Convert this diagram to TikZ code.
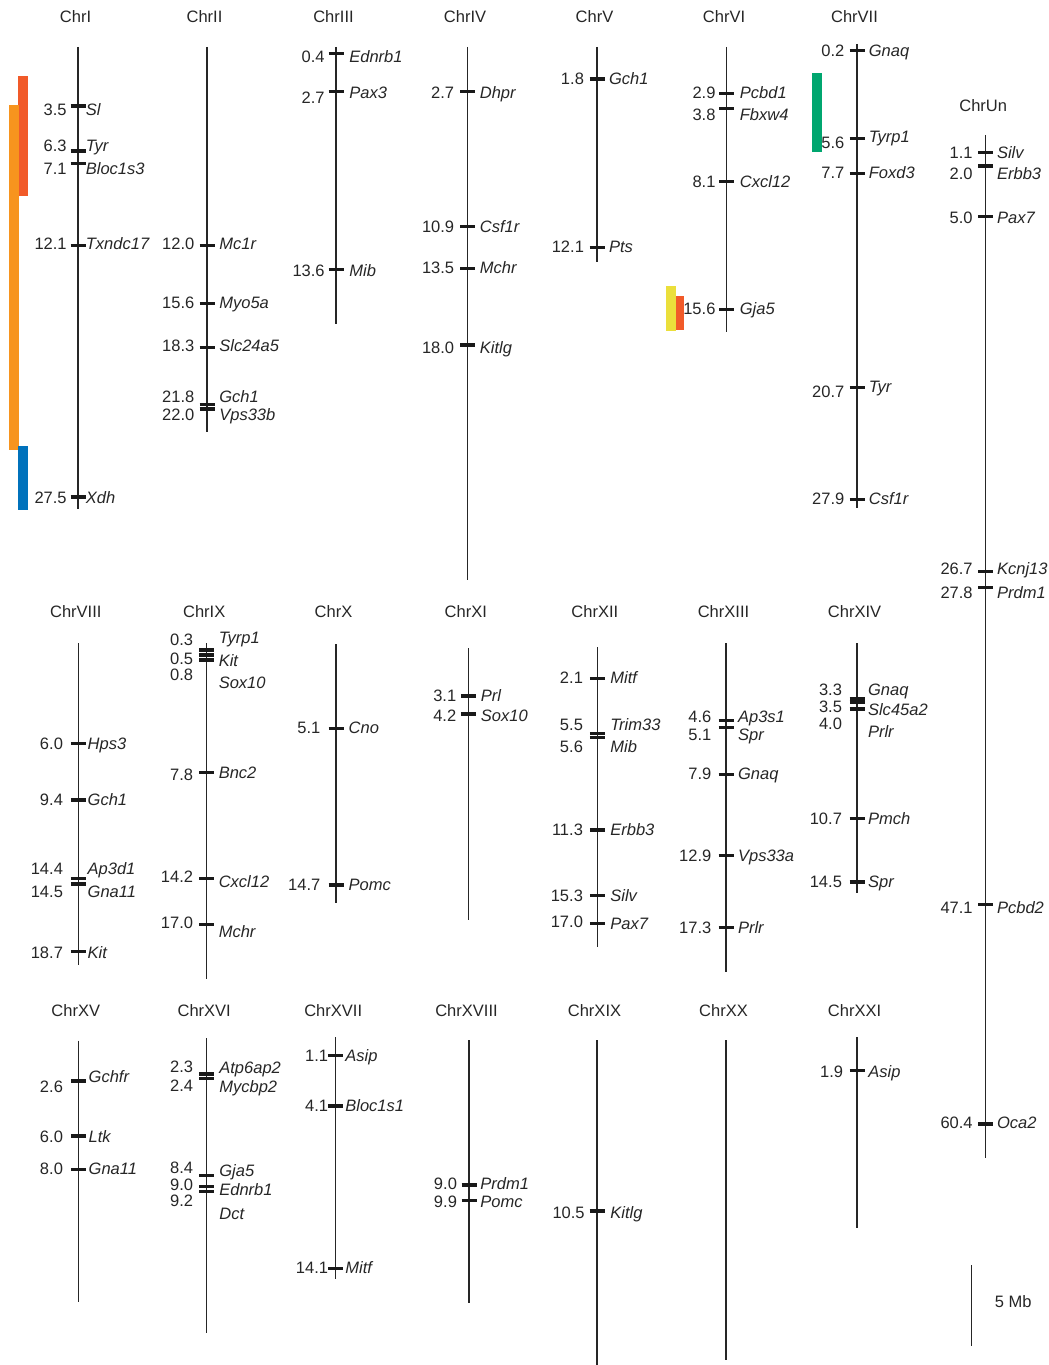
\documentclass[tikz,border=0pt]{standalone}
\usepackage{fontspec}
\setmainfont{Liberation Sans}
\usetikzlibrary{calc}

\definecolor{barred}{HTML}{F15A29}
\definecolor{barorange}{HTML}{F7941E}
\definecolor{barblue}{HTML}{0072BC}
\definecolor{baryellow}{HTML}{EBDF3B}
\definecolor{bargreen}{HTML}{00A66F}

\newcommand{\labelfont}{\fontsize{9.4}{10}\selectfont}

\tikzset{
  chrline/.style={line width=0.65pt,black!85},
  marker/.style={line width=2pt,black!90},
  chrname/.style={anchor=base,inner sep=0pt,yshift=-0.11cm,xshift=-0.05cm,font=\labelfont,black!85},
  mbpos/.style={anchor=base east,inner sep=0pt,yshift=-0.11cm,font=\labelfont,black!85},
  genename/.style={anchor=base west,inner sep=0pt,yshift=-0.11cm,font=\labelfont\itshape,black!85}
}

% #1 name, #2 x, #3 top, #4 bottom, #5 title y, #6 gap of Mb, #7 gap of gene, #8 ticks y/Mb/y/gene/y
\newcommand{\chrom}[8]{%
 \begin{scope}[shift={(#2,0)}]
  \draw[chrline] (0,#3) -- (0,#4);
  \node[chrname] (#1) at (0,#5) {#1};
  \foreach \ty/\mb/\my/\gene/\gy in {#8}{
   \draw[marker] (-7.5,\ty) -- (7.5,\ty);
   \node[mbpos] (#1-\gene-mb) at (-#6,\my) {\mb};
   \node[genename] (#1-\gene) at (#7,\gy) {\gene};
  }
 \end{scope}}

\begin{document}
\begin{tikzpicture}[x=0.02cm,y=-0.02cm]
\useasboundingbox (0,0) rectangle (1048,1365);

% coloured bars
\fill[barred] (18,76) rectangle (28,196);
\fill[barorange] (9,105) rectangle (19,450);
\fill[barblue] (18,446) rectangle (28,510);
\fill[baryellow] (666,286) rectangle (676,331);
\fill[barred] (676,296) rectangle (684,330);
\fill[bargreen] (812.3,72.7) rectangle (821.7,151.7);

% row 1
\chrom{ChrI}{78}{47}{509}{17}{11}{7.5}{106/3.5/110/Sl/110, 151/6.3/146.5/Tyr/146.5, 163.3/7.1/169/Bloc1s3/169, 245.7/12.1/244/Txndc17/244, 497/27.5/498/Xdh/498}
\chrom{ChrII}{207}{47}{431.7}{17}{12.3}{12}{245.7/12.0/244/Mc1r/244, 303.3/15.6/303/Myo5a/303, 347.7/18.3/346/Slc24a5/346, 404.3/21.8/396.7/Gch1/396.7, 409/22.0/415/Vps33b/415}
\chrom{ChrIII}{336}{47}{324}{17}{11}{13}{53.3/0.4/57.3/Ednrb1/57.3, 91.7/2.7/98.3/Pax3/93.3, 269.3/13.6/270.7/Mib/270.7}
\chrom{ChrIV}{467.5}{47}{580}{17}{13}{12}{91.7/2.7/93.3/Dhpr/93.3, 226.7/10.9/226.7/Csf1r/226.7, 268.3/13.5/268/Mchr/268, 345/18.0/348.3/Kitlg/348.3}
\chrom{ChrV}{597}{47}{262}{17}{12.7}{11.7}{79/1.8/79/Gch1/79, 247.3/12.1/247/Pts/247}
\chrom{ChrVI}{726.5}{47}{331.7}{17}{10.7}{13}{93.3/2.9/92.7/Pcbd1/92.7, 108.3/3.8/115/Fbxw4/115, 181.7/8.1/181.7/Cxcl12/181.7, 309.3/15.6/309.3/Gja5/309.3}
\chrom{ChrVII}{857}{44}{508}{17}{12.3}{11.5}{50.7/0.2/50.7/Gnaq/50.7, 138.3/5.6/142.7/Tyrp1/136.7, 173.3/7.7/173.3/Foxd3/173.3, 387.3/20.7/392.3/Tyr/387.3, 499.3/27.9/499.3/Csf1r/499.3}
\chrom{ChrUn}{985.7}{135}{1157.5}{106}{12.7}{11}{152.7/1.1/153.3/Silv/153.3, 166/2.0/173.7/Erbb3/173.7, 216.7/5.0/218.3/Pax7/218.3, 571.7/26.7/569/Kcnj13/569, 587.7/27.8/593.3/Prdm1/593.3, 904.3/47.1/908.3/Pcbd2/908.3, 1124/60.4/1122.7/Oca2/1122.7}

% row 2
\chrom{ChrVIII}{78.3}{643.3}{965}{612}{15}{9}{743.3/6.0/744/Hps3/744, 800/9.4/800/Gch1/800, 878.7/14.4/869.3/Ap3d1/869.3, 884/14.5/891.7/Gna11/891.7, 951.7/18.7/952.7/Kit/952.7}
\chrom{ChrIX}{206.7}{643.3}{979.3}{612}{13.3}{11.7}{650/0.3/640/Tyrp1/638.3, 655/0.5/659/Kit/661, 660/0.8/675/Sox10/683.3, 772.7/7.8/775/Bnc2/772.7, 878.7/14.2/877.3/Cxcl12/881.7, 924.3/17.0/923.3/Mchr/931.7}
\chrom{ChrX}{336}{644}{903.3}{612}{15.3}{12.3}{728.3/5.1/728.3/Cno/728.3, 885/14.7/885/Pomc/885}
\chrom{ChrXI}{468.3}{648.3}{920}{612}{11.7}{12.3}{696/3.1/696/Prl/696, 714/4.2/716/Sox10/716}
\chrom{ChrXII}{597.3}{647.3}{947.3}{612}{14}{12.7}{678.3/2.1/678.3/Mitf/678.3, 733.3/5.5/725/Trim33/725, 737.3/5.6/746.7/Mib/746.7, 830/11.3/830/Erbb3/830, 895.7/15.3/895.7/Silv/895.7, 923.3/17.0/921.7/Pax7/924.3}
\chrom{ChrXIII}{726}{643.3}{971.7}{612}{14.3}{11.7}{720.7/4.6/716.7/Ap3s1/716.7, 727.3/5.1/735/Spr/735, 774.3/7.9/774.3/Gnaq/774.3, 855.7/12.9/855.7/Vps33a/855.7, 927.7/17.3/928.3/Prlr/928.3}
\chrom{ChrXIV}{857}{643.3}{892.7}{612}{14.7}{10.7}{698.5/3.3/690/Gnaq/690, 702/3.5/707.3/Slc45a2/710, 709/4.0/724.3/Prlr/731.7, 818.7/10.7/818.7/Pmch/818.7, 882/14.5/882/Spr/882}

% row 3
\chrom{ChrXV}{78.3}{1040.7}{1301.7}{1010.7}{15}{10}{1081/2.6/1086.7/Gchfr/1077.3, 1136/6.0/1136.7/Ltk/1136.7, 1169.3/8.0/1169.3/Gna11/1169.3}
\chrom{ChrXVI}{206.7}{1038.3}{1332.7}{1010.7}{13.3}{12.3}{1074/2.3/1067.3/Atp6ap2/1068.3, 1078.3/2.4/1085.7/Mycbp2/1087.3, 1175.7/8.4/1168.3/Gja5/1171, 1186.7/9.0/1185/Ednrb1/1190, 1191.7/9.2/1200.7/Dct/1214}
\chrom{ChrXVII}{335.7}{1037.3}{1279.3}{1010.7}{7.3}{9.3}{1055.7/1.1/1055.7/Asip/1055.7, 1106/4.1/1106/Bloc1s1/1106, 1268.3/14.1/1268.3/Mitf/1268.3}
\chrom{ChrXVIII}{469}{1040}{1303}{1010.7}{11.7}{11}{1185/9.0/1184.3/Prdm1/1184.3, 1200.7/9.9/1201.7/Pomc/1201.7}
\chrom{ChrXIX}{597}{1040}{1365}{1010.7}{12}{13}{1211/10.5/1212.7/Kitlg/1212.7}
\chrom{ChrXXI}{857}{1037}{1228.3}{1010.7}{13.5}{11}{1070.7/1.9/1071.7/Asip/1071.7}

% ChrXX has no genes
\draw[chrline] (726,1040) -- (726,1360);
\node[chrname] (ChrXX) at (726,1010.7) {ChrXX};

% scale
\draw[chrline] (971.7,1265) -- (971.7,1346);
\node[chrname,xshift=0.05cm] (scale) at (1013.3,1301.7) {5 Mb};

\end{tikzpicture}
\end{document}
